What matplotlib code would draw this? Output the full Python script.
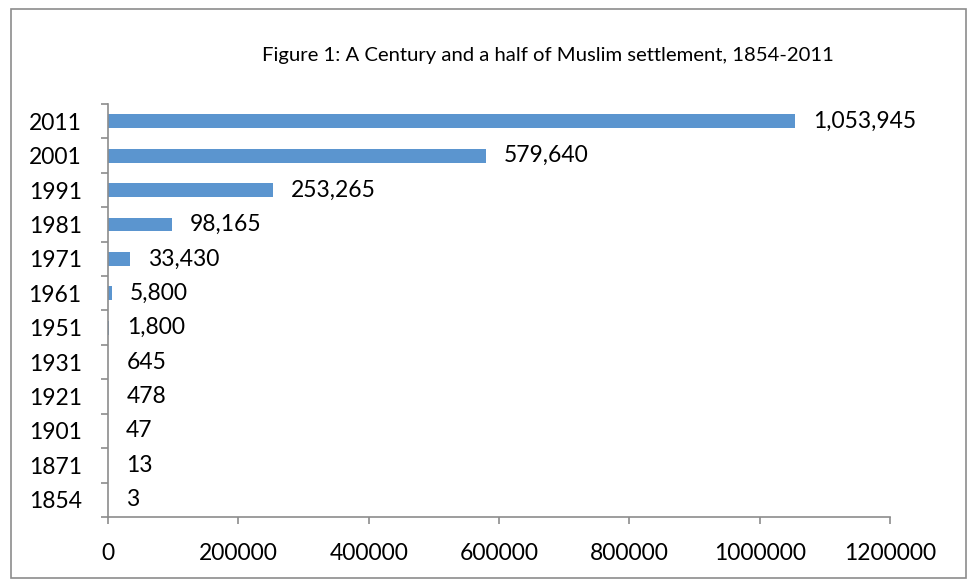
import numpy as np
import matplotlib.pyplot as plt
from matplotlib.patches import Rectangle

years = ['1854', '1871', '1901', '1921', '1931', '1951', '1961', '1971', '1981', '1991', '2001', '2011']
muslims = [3, 13, 47, 478, 645, 1800, 5800, 33430, 98165, 253265, 579640, 1053945]
xticks = [0, 200000, 400000, 600000, 800000, 1000000, 1200000]

plt.rcParams['font.family'] = ['Lato', 'DejaVu Sans']
axis_grey = '#8c8c8c'

fig = plt.figure(figsize=(9.69, 5.82), dpi=100)
ax = fig.add_axes([0.1115, 0.1117, 0.807, 0.7096])

pos = np.arange(len(years))
ax.barh(pos, muslims, height=0.4, color='#5B95CF')

for p, v in zip(pos, muslims):
    ax.annotate(f'{v:,}', (v, p), xytext=(13, 0), textcoords='offset points',
                va='center', ha='left', fontsize=16.5)

ax.set_xlim(0, 1200000)
ax.set_ylim(-0.5, len(years) - 0.5)
ax.set_xticks(xticks)
ax.set_xticklabels([str(t) for t in xticks])
ax.set_yticks(pos)
ax.set_yticklabels(years)
ax.set_yticks(np.arange(-0.5, len(years)), minor=True)

ax.tick_params(axis='y', which='major', length=0, pad=19, labelsize=16.5)
ax.tick_params(axis='y', which='minor', length=5, width=1.2, color=axis_grey)
ax.tick_params(axis='x', length=5, width=1.2, color=axis_grey, pad=14, labelsize=16.5)

for s in ['top', 'right']:
    ax.spines[s].set_visible(False)
for s in ['left', 'bottom']:
    ax.spines[s].set_color(axis_grey)
    ax.spines[s].set_linewidth(1.2)

fig.text(0.5655, 0.905, 'Figure 1: A Century and a half of Muslim settlement, 1854-2011',
         ha='center', va='center', fontsize=14.6)

# outer chart frame
fig.patches.append(Rectangle((0.0114, 0.007), 0.9856, 0.978, transform=fig.transFigure,
                             fill=False, edgecolor=axis_grey, linewidth=1.2))

fig.savefig('out.png', dpi=100)
